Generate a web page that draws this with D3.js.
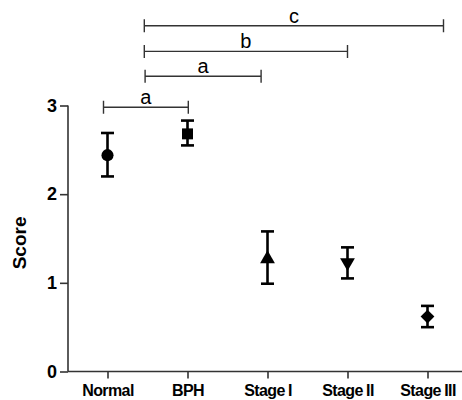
<!DOCTYPE html>
<html>
<head>
<meta charset="utf-8">
<script src="https://cdn.jsdelivr.net/npm/d3@7"></script>
<style>
  body { margin: 0; background: #fff; }
  svg { display: block; font-family: 'Liberation Sans', Arial, sans-serif; }
</style>
</head>
<body>
<div id="chart"></div>
<script>
const categories = ['Normal', 'BPH', 'Stage I', 'Stage II', 'Stage III']
const means = [2.44, 2.68, 1.27, 1.23, 0.62]
const upper = [2.69, 2.83, 1.58, 1.40, 0.74]
const lower = [2.20, 2.55, 0.99, 1.05, 0.50]
const yTicks = [0, 1, 2, 3]

// significance brackets: from / to in category index units, level in score units
const bracketFrom = [-0.05, 0.47, 0.46, 0.46]
const bracketTo = [1.01, 1.92, 3.0, 4.2]
const bracketLevel = [2.98, 3.33, 3.61, 3.9]
const bracketLabels = ['a', 'a', 'b', 'c']

const width = 462
const height = 400
const axisX = 68

const svg = d3.select('#chart')
  .append('svg')
  .attr('width', width)
  .attr('height', height)

const x = d3.scalePoint()
  .domain(categories)
  .range([107.5, 427.5])

const xIdx = d3.scaleLinear()
  .domain([0, categories.length - 1])
  .range(x.range())

const y = d3.scaleLinear()
  .domain([0, 3])
  .range([371.5, 105.5])

// y axis
const yAxis = svg.append('g')
  .attr('transform', `translate(${axisX},0)`)
  .call(d3.axisLeft(y).tickValues(yTicks).tickFormat(d3.format('d')).tickSize(8).tickPadding(3))
yAxis.select('.domain').attr('d', `M0,${y(3)}V${y(0)}`)

// x axis
const xAxis = svg.append('g')
  .attr('transform', `translate(0,${y(0)})`)
  .call(d3.axisBottom(x).tickSize(7).tickPadding(6))
xAxis.select('.domain').attr('d', `M${axisX},0H${width}`)

svg.selectAll('.domain, .tick line')
  .attr('stroke', '#333')
  .attr('stroke-width', 1.6)

yAxis.selectAll('text')
  .attr('font-size', 18)
  .attr('font-weight', 'bold')
  .attr('fill', '#000')

xAxis.selectAll('text')
  .attr('font-size', 16)
  .attr('font-weight', 'bold')
  .attr('letter-spacing', -0.6)
  .attr('word-spacing', -0.5)
  .attr('fill', '#000')

// axis title
svg.append('text')
  .attr('transform', `translate(26,${y(1.45)}) rotate(-90)`)
  .attr('text-anchor', 'middle')
  .attr('font-size', 19)
  .attr('font-weight', 'bold')
  .text('Score')

// error bars
const bars = svg.append('g').classed('errorbars', true)
  .attr('stroke', '#000')
  .attr('stroke-width', 2.6)

bars.selectAll('line.v')
  .data(categories)
  .enter()
  .append('line')
  .classed('v', true)
  .attr('x1', d => x(d))
  .attr('x2', d => x(d))
  .attr('y1', (d, i) => y(upper[i]))
  .attr('y2', (d, i) => y(lower[i]))

const capHalf = 6.5
bars.selectAll('line.top')
  .data(categories)
  .enter()
  .append('line')
  .attr('x1', d => x(d) - capHalf)
  .attr('x2', d => x(d) + capHalf)
  .attr('y1', (d, i) => y(upper[i]))
  .attr('y2', (d, i) => y(upper[i]))

bars.selectAll('line.bottom')
  .data(categories)
  .enter()
  .append('line')
  .attr('x1', d => x(d) - capHalf)
  .attr('x2', d => x(d) + capHalf)
  .attr('y1', (d, i) => y(lower[i]))
  .attr('y2', (d, i) => y(lower[i]))

// markers
const markers = [
  { type: d3.symbolCircle, size: 115, rotate: 0 },
  { type: d3.symbolSquare, size: 120, rotate: 0 },
  { type: d3.symbolTriangle, size: 95, rotate: 0 },
  { type: d3.symbolTriangle, size: 95, rotate: 180 },
  { type: d3.symbolSquare, size: 95, rotate: 45 }
]

svg.append('g')
  .classed('points', true)
  .selectAll('path')
  .data(categories)
  .enter()
  .append('path')
  .attr('d', (d, i) => d3.symbol(markers[i].type, markers[i].size)())
  .attr('transform', (d, i) => `translate(${x(d)},${y(means[i])}) rotate(${markers[i].rotate})`)
  .attr('fill', '#000')

// significance brackets
const brackets = svg.append('g')
  .classed('brackets', true)
  .selectAll('g')
  .data(bracketLabels)
  .enter()
  .append('g')

const tickHalf = 6.5
brackets.append('path')
  .attr('d', (d, i) => {
    const x1 = xIdx(bracketFrom[i])
    const x2 = xIdx(bracketTo[i])
    const yy = y(bracketLevel[i])
    return `M${x1},${yy - tickHalf}V${yy + tickHalf}M${x1},${yy}H${x2}M${x2},${yy - tickHalf}V${yy + tickHalf}`
  })
  .attr('fill', 'none')
  .attr('stroke', '#333')
  .attr('stroke-width', 1.4)

brackets.append('text')
  .attr('x', (d, i) => (xIdx(bracketFrom[i]) + xIdx(bracketTo[i])) / 2)
  .attr('y', (d, i) => y(bracketLevel[i]) - 3)
  .attr('text-anchor', 'middle')
  .attr('font-size', 20)
  .text(d => d)
</script>
</body>
</html>
